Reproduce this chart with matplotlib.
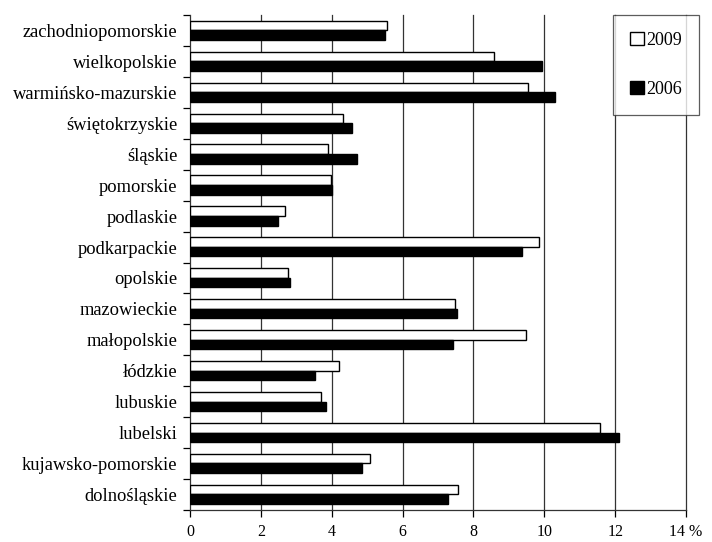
import numpy as np
import matplotlib
matplotlib.use("Agg")
import matplotlib.pyplot as plt

# regions listed bottom -> top
regions = ["dolnośląskie", "kujawsko-pomorskie", "lubelski", "lubuskie", "łódzkie",
           "małopolskie", "mazowieckie", "opolskie", "podkarpackie", "podlaskie",
           "pomorskie", "śląskie", "świętokrzyskie", "warmińsko-mazurskie",
           "wielkopolskie", "zachodniopomorskie"]
val_2009 = [7.57, 5.09, 11.57, 3.69, 4.21, 9.49, 7.48, 2.76, 9.84, 2.67,
            3.98, 3.90, 4.31, 9.54, 8.59, 5.56]
val_2006 = [7.28, 4.85, 12.11, 3.83, 3.53, 7.41, 7.53, 2.83, 9.37, 2.48,
            4.00, 4.70, 4.56, 10.31, 9.93, 5.51]
xticks = [0, 2, 4, 6, 8, 10, 12, 14]
xlabels = ["0", "2", "4", "6", "8", "10", "12", "14 %"]

plt.rcParams['font.family'] = ['Liberation Serif', 'DejaVu Serif']

fig = plt.figure(figsize=(7.12, 5.42), dpi=100)
ax = fig.add_axes([190 / 712, 1 - 510 / 542, (686 - 190) / 712, (510 - 15) / 542])

y = np.arange(len(regions))
h = 0.31
ax.barh(y + h / 2 + 0.005, val_2009, height=h, color='white', edgecolor='black',
        linewidth=1.0, label='2009', zorder=3)
ax.barh(y - h / 2 + 0.005, val_2006, height=h, color='black', edgecolor='black',
        linewidth=1.0, label='2006', zorder=3)

ax.set_xlim(0, 14)
ax.set_ylim(-0.5, len(regions) - 0.5)
for x in xticks[1:]:
    ax.axvline(x, color='#333333', linewidth=0.9, zorder=1, clip_on=False)

ax.set_xticks(xticks)
ax.set_xticklabels(xlabels, fontsize=11.5)
ax.set_yticks(y)
ax.set_yticklabels(regions, fontsize=13.3)
ax.tick_params(axis='y', which='major', length=0, pad=9)
ax.set_yticks(np.arange(-0.5, len(regions), 1), minor=True)
ax.tick_params(axis='y', which='minor', length=5, width=0.9, direction='out')
ax.tick_params(axis='x', length=5, width=0.9, direction='out', pad=5)

for s in ['top', 'right']:
    ax.spines[s].set_visible(False)
for s in ['left', 'bottom']:
    ax.spines[s].set_linewidth(0.9)
    ax.spines[s].set_color('#333333')

leg = ax.legend(loc='upper left', bbox_to_anchor=((613 - 190) / 496, 1.0),
                fontsize=13, frameon=True, fancybox=False, edgecolor='#333333',
                handlelength=0.75, handleheight=0.75, handletextpad=0.15,
                labelspacing=1.75, borderpad=0.95, borderaxespad=0)
leg.get_frame().set_linewidth(0.9)
leg.set_zorder(5)

fig.savefig("out.png", dpi=100)
